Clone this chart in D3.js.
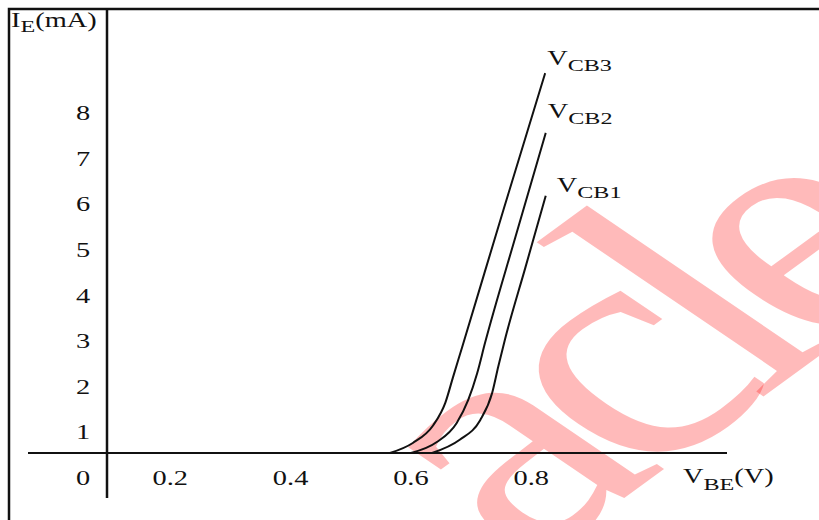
<!DOCTYPE html>
<html>
<head>
<meta charset="utf-8">
<script src="https://cdn.jsdelivr.net/npm/d3@7"></script>
<style>
  body { margin: 0; background: #fff; }
  text { font-family: "Liberation Serif", "Times New Roman", serif; fill: #111; }
</style>
</head>
<body>
<svg id="chart" width="819" height="520"></svg>
<script>
// tick labels
var xTicks = [0.2, 0.4, 0.6, 0.8];
var yTicks = [1, 2, 3, 4, 5, 6, 7, 8];

// curve names
var curveNames = ["CB1", "CB2", "CB3"];

// V_BE (V) and I_E (mA), one pair of arrays per curve
var vbeCB1 = [0.636, 0.682, 0.716, 0.736, 0.746, 0.757, 0.791, 0.825];
var ieCB1  = [0,     0.29,  0.72,  1.32,  1.89,  2.48,  4.06,  5.64];

var vbeCB2 = [0.601, 0.644, 0.677, 0.696, 0.711, 0.724, 0.774, 0.825];
var ieCB2  = [0,     0.24,  0.66,  1.16,  1.75,  2.41,  4.71,  7.02];

var vbeCB3 = [0.566, 0.604, 0.638, 0.658, 0.671, 0.686, 0.756, 0.824];
var ieCB3  = [0,     0.22,  0.61,  1.10,  1.67,  2.32,  5.39,  8.33];

var WIDTH = 819,
    HEIGHT = 520,
    SX = 1.42,          // the source image is stretched sideways, text follows it
    AXIS_X = 107,
    AXIS_Y = 453;

var svg = d3.select("#chart");

var xScale = d3.scaleLinear().domain([0, 1]).range([49.5, 651]);
var yScale = d3.scaleLinear().domain([0, 9]).range([AXIS_Y, AXIS_Y - 9 * 45.6]);

// watermark, underneath everything
svg.append("g")
    .attr("transform", "scale(" + SX + ",1)")
  .append("text")
    .attr("transform", "translate(372,568) rotate(-46)")
    .attr("font-size", 320)
    .attr("letter-spacing", -26)
    .style("fill", "#ff0000")
    .style("fill-opacity", 0.27)
    .text("acle");

// frame
svg.append("rect")
    .attr("x", 9).attr("y", 9)
    .attr("width", 900).attr("height", 600)
    .attr("fill", "none")
    .attr("stroke", "#111")
    .attr("stroke-width", 2.5);

// axis lines
svg.append("line")
    .attr("x1", AXIS_X).attr("x2", AXIS_X)
    .attr("y1", 9).attr("y2", 498)
    .attr("stroke", "#111").attr("stroke-width", 2.5);

svg.append("line")
    .attr("x1", 28).attr("x2", 727)
    .attr("y1", AXIS_Y).attr("y2", AXIS_Y)
    .attr("stroke", "#111").attr("stroke-width", 2);

// y tick labels (sit half a step below each level, as in the drawing)
var yAxis = d3.axisLeft(yScale).tickValues(yTicks).tickSize(0).tickFormat(d3.format("d"));
var gy = svg.append("g")
    .attr("transform", "translate(" + AXIS_X + ",0)")
    .call(yAxis);
gy.select(".domain").remove();
gy.selectAll("text")
    .attr("x", -24 / SX)
    .attr("dy", "0.35em")
    .attr("text-anchor", "middle")
    .attr("transform", "translate(0,24.4) scale(" + SX + ",1)")
    .attr("font-size", 20)
    .attr("font-family", null);

// x tick labels
var xAxis = d3.axisBottom(xScale).tickValues(xTicks).tickSize(0).tickFormat(d3.format(".1f"));
var gx = svg.append("g")
    .attr("transform", "translate(0," + AXIS_Y + ")")
    .call(xAxis);
gx.select(".domain").remove();
gx.selectAll("text")
    .attr("y", 25)
    .attr("dy", "0.35em")
    .attr("transform", "scale(" + SX + ",1)")
    .attr("font-size", 20)
    .attr("font-family", null);

// shared origin label
svg.append("text")
    .attr("transform", "translate(" + (AXIS_X - 24) + "," + (AXIS_Y + 25) + ") scale(" + SX + ",1)")
    .attr("dy", "0.35em")
    .attr("text-anchor", "middle")
    .attr("font-size", 20)
    .text("0");

// text with a subscript
function subLabel(x, y, main, sub, rest, drop) {
  var t = svg.append("text")
      .attr("transform", "translate(" + x + "," + y + ") scale(" + SX + ",1)")
      .attr("font-size", 20);
  t.append("tspan").text(main);
  t.append("tspan").attr("font-size", 17).attr("dy", drop).text(sub);
  if (rest) t.append("tspan").attr("dy", -drop).text(rest);
  return t;
}

subLabel(11, 27, "I", "E", "(mA)", 5);
subLabel(683, 483, "V", "BE", "(V)", 7);

// curves
var lineGen = d3.line()
    .x(function (d) { return xScale(d[0]); })
    .y(function (d) { return yScale(d[1]); })
    .curve(d3.curveMonotoneX);

var series = [
  { name: curveNames[0], pts: d3.zip(vbeCB1, ieCB1) },
  { name: curveNames[1], pts: d3.zip(vbeCB2, ieCB2) },
  { name: curveNames[2], pts: d3.zip(vbeCB3, ieCB3) }
];

svg.selectAll("path.curve")
    .data(series)
  .enter().append("path")
    .attr("class", "curve")
    .attr("d", function (d) { return lineGen(d.pts); })
    .attr("fill", "none")
    .attr("stroke", "#111")
    .attr("stroke-width", 2);

// curve labels, nudged from each curve's top end
var labelNudge = [[11, -4], [2, -15], [2, -8]];
series.forEach(function (s, i) {
  var end = s.pts[s.pts.length - 1];
  subLabel(xScale(end[0]) + labelNudge[i][0], yScale(end[1]) + labelNudge[i][1],
           "V", s.name, null, 6);
});
</script>
</body>
</html>
